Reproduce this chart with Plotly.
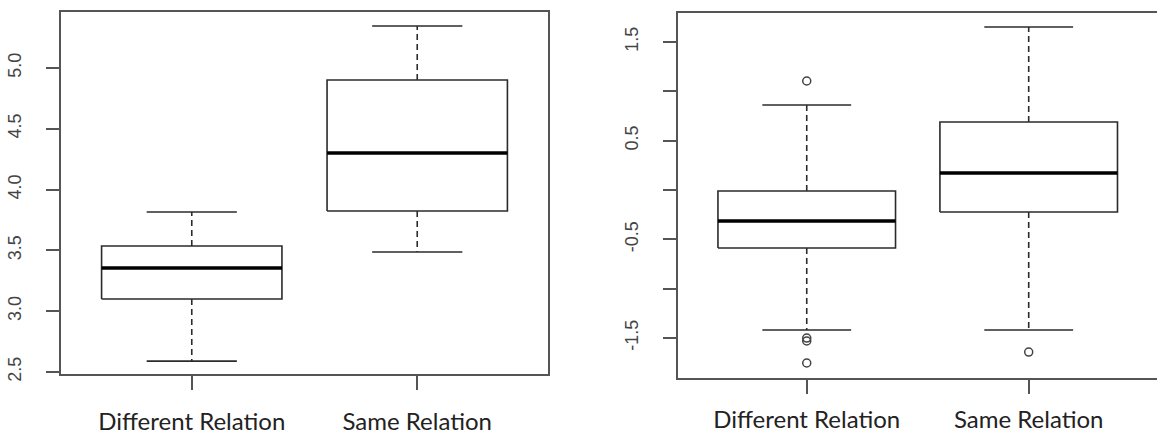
import plotly.graph_objects as go
from plotly.subplots import make_subplots

categories = ["Different Relation", "Same Relation"]

# Left panel statistics
left_lower = [2.59, 3.487]
left_q1 = [3.100, 3.824]
left_median = [3.355, 4.301]
left_q3 = [3.536, 4.901]
left_upper = [3.816, 5.345]
left_outliers = [[], []]

# Right panel statistics
right_lower = [-1.419, -1.419]
right_q1 = [-0.588, -0.223]
right_median = [-0.314, 0.172]
right_q3 = [-0.010, 0.689]
right_upper = [0.861, 1.652]
right_outliers = [[1.105, -1.50, -1.53, -1.753], [-1.642]]

left_ticks = [2.5, 3.0, 3.5, 4.0, 4.5, 5.0]
left_ticktext = ["2.5", "3.0", "3.5", "4.0", "4.5", "5.0"]
right_ticks = [-1.5, -1.0, -0.5, 0.0, 0.5, 1.0, 1.5]
right_ticktext = ["-1.5", "", "-0.5", "", "0.5", "", "1.5"]

BOX_HALF = 0.4
CAP_HALF = 0.2
BOX_COLOR = "#2b2b2b"
AXIS_COLOR = "#555555"

fig = make_subplots(rows=1, cols=2)


def add_panel(col, lower, q1, med, q3, upper, outliers):
    bx, by, mx, my, wx, wy, cx, cy, ox, oy = [], [], [], [], [], [], [], [], [], []
    for i in range(len(categories)):
        x = i + 1
        bx += [x - BOX_HALF, x + BOX_HALF, x + BOX_HALF, x - BOX_HALF, x - BOX_HALF, None]
        by += [q1[i], q1[i], q3[i], q3[i], q1[i], None]
        mx += [x - BOX_HALF, x + BOX_HALF, None]
        my += [med[i], med[i], None]
        wx += [x, x, None, x, x, None]
        wy += [q3[i], upper[i], None, q1[i], lower[i], None]
        cx += [x - CAP_HALF, x + CAP_HALF, None, x - CAP_HALF, x + CAP_HALF, None]
        cy += [upper[i], upper[i], None, lower[i], lower[i], None]
        for v in outliers[i]:
            ox.append(x)
            oy.append(v)
    fig.add_trace(go.Scatter(x=wx, y=wy, mode="lines",
                             line=dict(color=BOX_COLOR, width=1.6, dash="6px,4px"),
                             showlegend=False, hoverinfo="skip"), row=1, col=col)
    fig.add_trace(go.Scatter(x=cx, y=cy, mode="lines",
                             line=dict(color=BOX_COLOR, width=1.6),
                             showlegend=False, hoverinfo="skip"), row=1, col=col)
    fig.add_trace(go.Scatter(x=bx, y=by, mode="lines",
                             line=dict(color=BOX_COLOR, width=1.6),
                             showlegend=False, hoverinfo="skip"), row=1, col=col)
    fig.add_trace(go.Scatter(x=mx, y=my, mode="lines",
                             line=dict(color="#000000", width=3.6),
                             showlegend=False, hoverinfo="skip"), row=1, col=col)
    if ox:
        fig.add_trace(go.Scatter(x=ox, y=oy, mode="markers",
                                 marker=dict(symbol="circle-open", size=8,
                                             color="#444444", line=dict(width=1.5)),
                                 showlegend=False, hoverinfo="skip"), row=1, col=col)


add_panel(1, left_lower, left_q1, left_median, left_q3, left_upper, left_outliers)
add_panel(2, right_lower, right_q1, right_median, right_q3, right_upper, right_outliers)

xcommon = dict(tickvals=[1, 2], ticktext=categories, ticks="outside", ticklen=14,
               tickwidth=1.5, tickcolor=AXIS_COLOR, showline=True, mirror=True,
               linecolor=AXIS_COLOR, linewidth=1.5, showgrid=False, zeroline=False,
               automargin=False,
               tickfont=dict(family="Lato", size=24, color="#222222"))
ycommon = dict(ticks="outside", ticklen=13, tickwidth=1.5, tickcolor=AXIS_COLOR,
               showline=True, mirror=True, linecolor=AXIS_COLOR, linewidth=1.5,
               showgrid=False, zeroline=False, tickangle=-90, ticklabelstandoff=18,
               automargin=False,
               tickfont=dict(family="Liberation Sans", size=18, color="#444444"))

W, H = 1157, 434
fig.update_layout(
    width=W, height=H, margin=dict(l=0, r=0, t=0, b=0, autoexpand=False),
    paper_bgcolor="white", plot_bgcolor="white",
    xaxis=dict(xcommon, domain=[61 / W, 548 / W], range=[0.42, 2.58],
               ticklabelstandoff=11),
    xaxis2=dict(xcommon, domain=[678 / W, 1.0], range=[0.42, 2.578],
                ticklabelstandoff=5),
    yaxis=dict(ycommon, domain=[1 - 374 / H, 1 - 12 / H], range=[2.484, 5.46],
               tickvals=left_ticks, ticktext=left_ticktext),
    yaxis2=dict(ycommon, domain=[1 - 378 / H, 1 - 13 / H], range=[-1.905, 1.794],
                tickvals=right_ticks, ticktext=right_ticktext),
)

fig.write_html("out.html", config={"displayModeBar": False},
               post_script="document.body.style.margin='0';document.body.style.overflow='hidden';")
